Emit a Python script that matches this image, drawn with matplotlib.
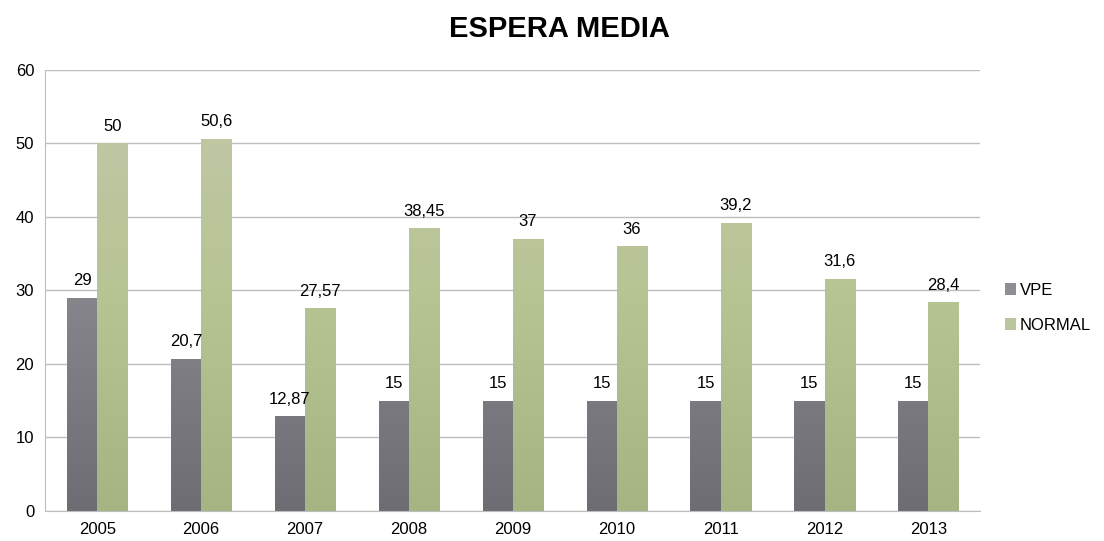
import matplotlib.pyplot as plt
import numpy as np
from matplotlib.colors import LinearSegmentedColormap

years = ['2005', '2006', '2007', '2008', '2009', '2010', '2011', '2012', '2013']
vpe = [29, 20.7, 12.87, 15, 15, 15, 15, 15, 15]
normal = [50, 50.6, 27.57, 38.45, 37, 36, 39.2, 31.6, 28.4]
vpe_labels = ['29', '20,7', '12,87', '15', '15', '15', '15', '15', '15']
normal_labels = ['50', '50,6', '27,57', '38,45', '37', '36', '39,2', '31,6', '28,4']

plt.rcParams['font.family'] = ['Liberation Sans', 'DejaVu Sans']

fig = plt.figure(figsize=(11.04, 5.41), dpi=100)
ax = fig.add_axes([0.041, 0.0555, 0.847, 0.8155])

x = np.arange(len(years))
w = 0.29
gray_cmap = LinearSegmentedColormap.from_list('g', ['#6f6d74', '#87868c', '#939297'])
green_cmap = LinearSegmentedColormap.from_list('n', ['#a6b382', '#b7c494', '#c2c8aa'])

b1 = ax.bar(x - w/2, vpe, w, color='#8f8e94', label='VPE', zorder=2)
b2 = ax.bar(x + w/2, normal, w, color='#bcc69e', label='NORMAL', zorder=2)

grad = np.linspace(0, 1, 256).reshape(-1, 1)
for bars, cm in [(b1, gray_cmap), (b2, green_cmap)]:
    for r in bars:
        x0 = r.get_x()
        im = ax.imshow(grad, cmap=cm, origin='lower', aspect='auto',
                       extent=[x0, x0 + r.get_width(), 0, 60], zorder=2.5)
        im.set_clip_path(r)

for i in range(len(years)):
    ax.text(x[i] - w/2, vpe[i] + 1.3, vpe_labels[i], ha='center', va='bottom', fontsize=12)
    ax.text(x[i] + w/2, normal[i] + 1.3, normal_labels[i], ha='center', va='bottom', fontsize=12)

ax.set_xlim(-0.5, len(years) - 0.5)
ax.set_ylim(0, 60)
ax.set_yticks(range(0, 61, 10))
ax.set_xticks(x)
ax.set_xticklabels(years)
ax.tick_params(axis='both', labelsize=12, length=0, pad=8)
ax.yaxis.grid(True, color='#bdbdbd', linewidth=1, zorder=0)
ax.set_axisbelow(True)
for s in ['top', 'right']:
    ax.spines[s].set_visible(False)
ax.spines['left'].set_color('#bdbdbd')
ax.spines['bottom'].set_color('#bdbdbd')

fig.text(0.507, 0.947, 'ESPERA MEDIA', ha='center', va='center', fontsize=21, fontweight='bold')

ax.legend(loc='center left', bbox_to_anchor=(1.01, 0.46), frameon=False, fontsize=12,
          handlelength=0.7, handleheight=0.7, handletextpad=0.2, labelspacing=1.2)

fig.savefig('out.png', dpi=100)
